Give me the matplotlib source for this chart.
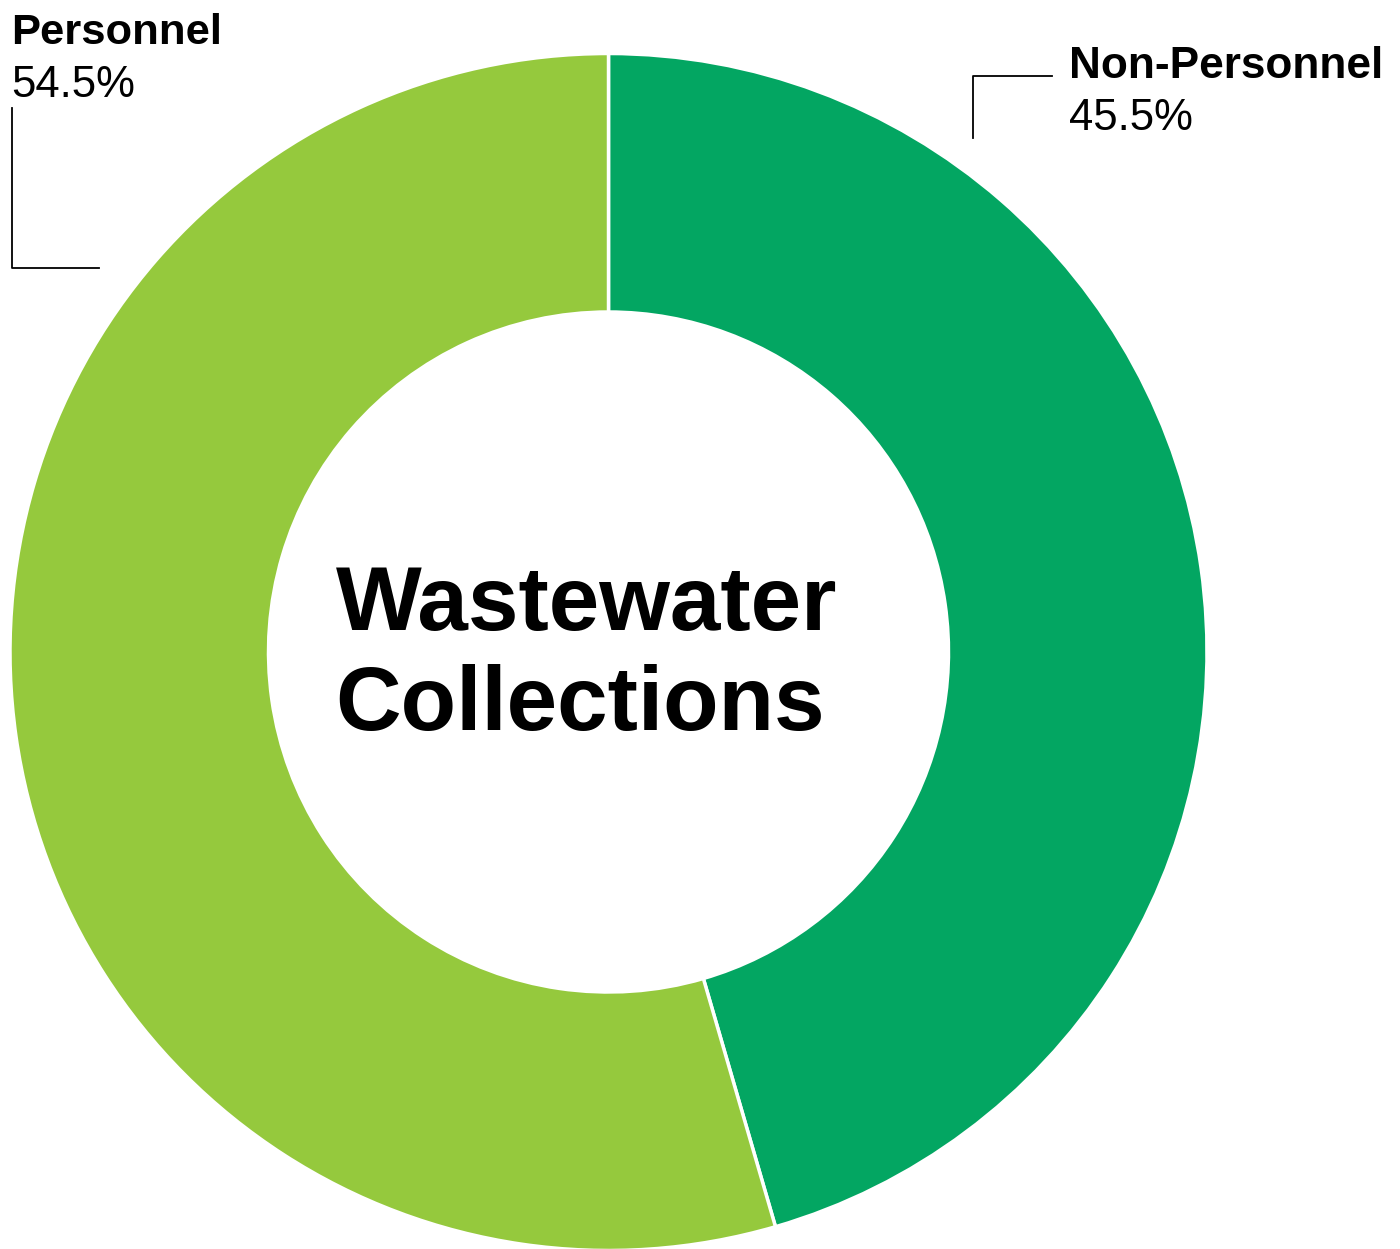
import matplotlib
matplotlib.use("Agg")
import matplotlib.pyplot as plt

labels = ["Non-Personnel", "Personnel"]
values = [45.5, 54.5]
pct_labels = ["45.5%", "54.5%"]
colors = ["#03A662", "#95C93D"]
center_title = ["Wastewater", "Collections"]

W, H = 1400, 1249
fig = plt.figure(figsize=(W / 100, H / 100), dpi=100)
ax = fig.add_axes([0, 0, 1, 1])
ax.set_xlim(0, W)
ax.set_ylim(0, H)
ax.set_aspect("equal")
ax.axis("off")

def Y(y):
    return H - y

cx, cy, R, r_in = 608.5, 652, 598.5, 340
ax.pie(values, colors=colors, startangle=90, counterclock=False,
       center=(cx, Y(cy)), radius=R, frame=True,
       wedgeprops=dict(width=R - r_in, edgecolor="white", linewidth=2.5))
ax.set_xlim(0, W)
ax.set_ylim(0, H)
ax.axis("off")

font = "Liberation Sans"
# Personnel label
ax.text(11, Y(44), labels[1], fontsize=31.3, fontweight="bold", family=font,
        ha="left", va="baseline", color="black")
ax.text(11, Y(97), pct_labels[1], fontsize=31.5, family=font,
        ha="left", va="baseline", color="black")
ax.plot([11.5, 11.5, 99], [Y(108), Y(268), Y(268)], color="black", lw=1.3)

# Non-Personnel label
ax.text(1069, Y(78), labels[0], fontsize=31.8, fontweight="bold", family=font,
        ha="left", va="baseline", color="black")
ax.text(1069, Y(130), pct_labels[0], fontsize=31.5, family=font,
        ha="left", va="baseline", color="black")
ax.plot([972.5, 972.5, 1052], [Y(138), Y(76), Y(76)], color="black", lw=1.3)

# Center title
ax.text(336, Y(630), center_title[0], fontsize=65.4, fontweight="bold", family=font,
        ha="left", va="baseline", color="black")
ax.text(335, Y(730), center_title[1], fontsize=65.4, fontweight="bold", family=font,
        ha="left", va="baseline", color="black")

fig.savefig("out.png", dpi=100, facecolor="white")
